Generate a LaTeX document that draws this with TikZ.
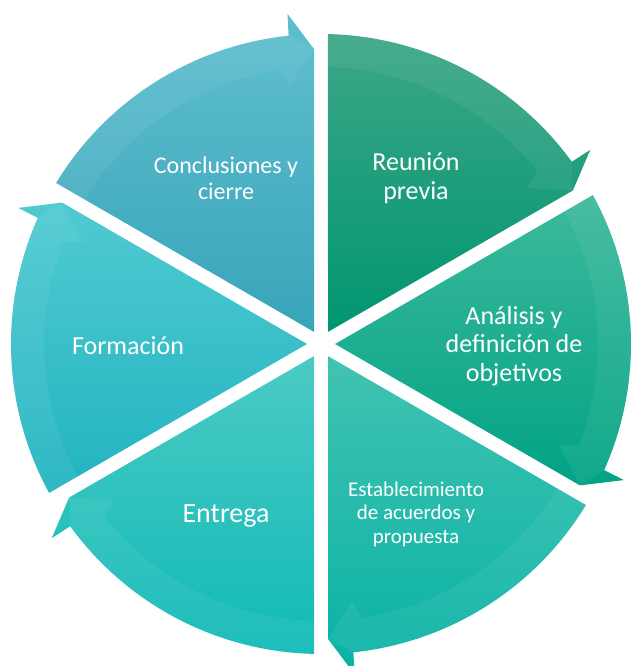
\documentclass[tikz,border=0pt]{standalone}
\usepackage{fontspec}
\setmainfont{Carlito}
\definecolor{reuT}{HTML}{3DA687}
\definecolor{reuB}{HTML}{009670}
\definecolor{anaT}{HTML}{3DB99C}
\definecolor{anaB}{HTML}{02A385}
\definecolor{estT}{HTML}{42C3B1}
\definecolor{estB}{HTML}{08B2A5}
\definecolor{entT}{HTML}{4CCAC5}
\definecolor{entB}{HTML}{10BAB6}
\definecolor{forT}{HTML}{50CAD1}
\definecolor{forB}{HTML}{22B4C1}
\definecolor{conT}{HTML}{60BFCE}
\definecolor{conB}{HTML}{38A4BA}
\tikzset{
  lbl/.style={text=white, align=center, inner sep=0pt},
  band/.style={fill=white, fill opacity=0.06}
}
\newcommand{\segcyc}[3]{%
  \pgfmathsetmacro{\bb}{#1-60}%
  \pgfmathsetmacro{\ss}{#1-1.29}%
  \pgfmathsetmacro{\ee}{\bb+6}%
  \pgfmathsetmacro{\mm}{#1-30}%
  \shade[top color=#2, bottom color=#3]
    (\ss:310) arc[start angle=\ss, end angle=\ee, radius=310]
    -- ({\bb+5.8}:332) -- ({\bb+1.36}:295) -- (\mm:14) -- cycle;
  \pgfmathsetmacro{\si}{#1-1.45}%
  \pgfmathsetmacro{\ei}{\bb+8.5}%
  \fill[band]
    (\ss:310) arc[start angle=\ss, end angle=\ee, radius=310]
    -- ({\bb+1.36}:295) -- ({\bb+7}:259) -- (\ei:277)
    arc[start angle=\ei, end angle=\si, radius=277] -- cycle;
}
\begin{document}
\begin{tikzpicture}[x=1pt,y=1pt]
\useasboundingbox (0,0) rectangle (632,666);
\clip (0,0) rectangle (632,666);
\begin{scope}[shift={(321,322)}]
  \segcyc{90}{reuT}{reuB}
  \segcyc{30}{anaT}{anaB}
  \segcyc{-30}{estT}{estB}
  \segcyc{-90}{entT}{entB}
  \segcyc{-150}{forT}{forB}
  \segcyc{150}{conT}{conB}
\end{scope}
\node[lbl, font=\fontsize{26}{28.6}\selectfont] (reunion) at (416,488) {Reunión\\previa};
\node[lbl, font=\fontsize{26}{28.6}\selectfont] (analisis) at (514,320) {Análisis y\\definición de\\objetivos};
\node[lbl, font=\fontsize{21}{23.5}\selectfont] (establ) at (416,152) {Establecimiento\\de acuerdos y\\propuesta};
\node[lbl, font=\fontsize{28}{30}\selectfont] (entrega) at (226,150) {Entrega};
\node[lbl, font=\fontsize{26}{28.6}\selectfont] (formacion) at (128,320) {Formación};
\node[lbl, font=\fontsize{24}{26.4}\selectfont] (conclusiones) at (226,488) {Conclusiones y\\cierre};
\end{tikzpicture}
\end{document}
